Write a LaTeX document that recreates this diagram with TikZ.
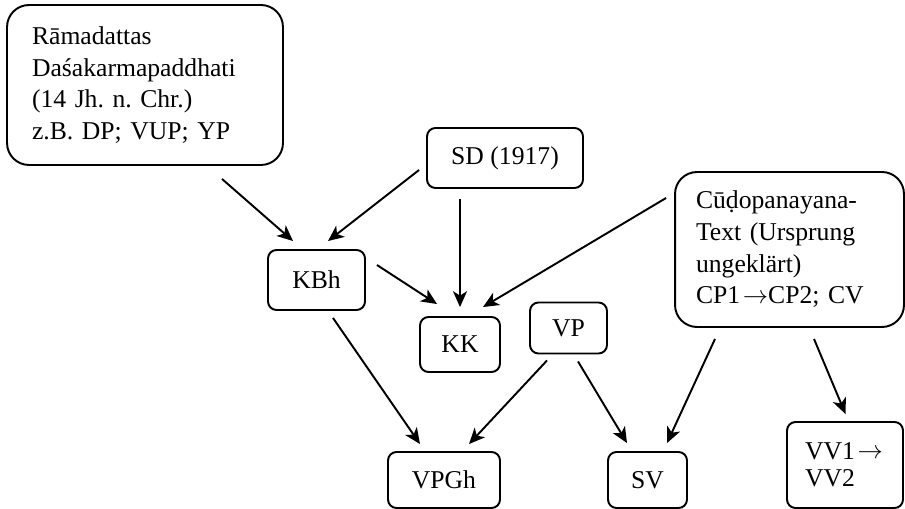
\documentclass[tikz,border=0pt]{standalone}
\usepackage{fontspec}
\setmainfont{Liberation Serif}
\usetikzlibrary{arrows.meta,calc}
\newcommand{\tarr}{\kern1.5pt\raisebox{.03em}{$\rightarrow$}}
\frenchspacing

\begin{document}
\begin{tikzpicture}[x=0.02cm,y=-0.02cm,
    font=\fontsize{14.6}{18}\selectfont,
    box/.style={draw,line width=1.1pt,rounded corners=0.17cm,inner sep=0pt},
    bigbox/.style={draw,line width=1.1pt,rounded corners=0.44cm,align=left},
    arr/.style={line width=1.1pt,-{Stealth[length=9pt,width=8pt,inset=2.5pt]}}]
  \useasboundingbox (0,0) rectangle (905,509);

  \node[bigbox,minimum width=5.52cm,minimum height=3.2cm,text width=4.52cm,inner xsep=0.5cm] (rd) at (145,85)
    {Rāmadattas\\Daśakarmapaddhati\\(14 Jh. n. Chr.)\\z.B. DP; VUP; YP};
  \node[bigbox,minimum width=4.58cm,minimum height=3.1cm,text width=3.74cm,inner xsep=0.42cm] (cp) at (789.5,249.5)
    {Cūḍopanayana-\\Text (Ursprung\\ungeklärt)\\CP1\tarr CP2; CV};

  \node[box,minimum width=3.12cm,minimum height=1.2cm] (sd) at (505,158) {SD (1917)};
  \node[box,minimum width=1.94cm,minimum height=1.2cm] (kbh) at (316.5,280) {KBh};
  \node[box,minimum width=1.6cm,minimum height=1.1cm] (kk) at (460,344.5) {KK};
  \node[box,minimum width=1.54cm,minimum height=1.02cm] (vp) at (568.5,328) {VP};
  \node[box,minimum width=2.24cm,minimum height=1.12cm] (vpgh) at (444,480) {VPGh};
  \node[box,minimum width=1.58cm,minimum height=1.12cm] (sv) at (647.5,480) {SV};
  \node[box,minimum width=2.32cm,minimum height=1.72cm,text width=1.6cm,align=left,inner xsep=0.36cm,
    font=\fontsize{14.6}{15.5}\selectfont] (vv) at (845,465) {VV1\tarr\\VV2};

  \draw[arr] ($(rd.south)+(77,13)$) -- ($(kbh.north)+(-23.5,-8)$);
  \draw[arr] ($(sd.west)+(-7,12)$) -- ($(kbh.north)+(11.5,-8)$);
  \draw[arr] ($(sd.south)+(-45,10)$) -- ($(kk.north)+(0,-9)$);
  \draw[arr] ($(kbh.east)+(11,-15)$) -- ($(kk.north)+(-23,-12)$);
  \draw[arr] ($(cp.west)+(-8,-51.5)$) -- ($(kk.north)+(23,-9)$);

  \draw[arr] ($(kbh.south)+(16.5,7)$) -- ($(vpgh.north)+(-24,-7)$);
  \draw[arr] ($(vp.south)+(-21.5,6)$) -- ($(vpgh.north)+(25,-7)$);
  \draw[arr] ($(vp.south)+(9.5,7)$) -- ($(sv.north)+(-20.5,-8)$);
  \draw[arr] ($(cp.south)+(-74.5,11)$) -- ($(sv.north)+(19.5,-8)$);
  \draw[arr] ($(cp.south)+(24.5,11)$) -- ($(vv.north)+(0.5,-7)$);
\end{tikzpicture}
\end{document}
